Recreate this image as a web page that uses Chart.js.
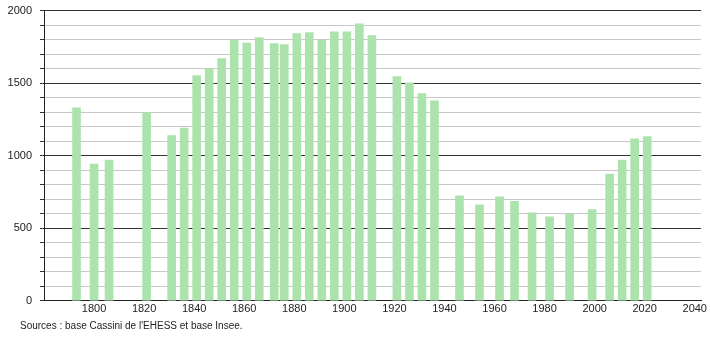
<!DOCTYPE html>
<html>
<head>
<meta charset="utf-8">
<script src="https://cdn.jsdelivr.net/npm/chart.js@4/dist/chart.umd.min.js"></script>
<style>
  body { margin: 0; background: #fff; }
  #wrap { position: relative; width: 710px; height: 340px; overflow: hidden; }
  #popChart { position: absolute; left: 0; top: -4px; }
  #source { position: absolute; left: 20px; top: 320px; font: 10px "Liberation Sans", Arial, sans-serif; color: #222; }
</style>
</head>
<body>
<div id="wrap">
  <canvas id="popChart" width="710" height="340"></canvas>
  <div id="source">Sources : base Cassini de l'EHESS et base Insee.</div>
</div>
<script>
// années de recensement
const years = [1793, 1800, 1806, 1821, 1831, 1836, 1841, 1846, 1851, 1856,
  1861, 1866, 1872, 1876, 1881, 1886, 1891, 1896, 1901, 1906,
  1911, 1921, 1926, 1931, 1936, 1946, 1954, 1962, 1968, 1975,
  1982, 1990, 1999, 2006, 2011, 2016, 2021];

// population
const population = [1330, 943, 970, 1298, 1138, 1191, 1552, 1598, 1669, 1795,
  1777, 1814, 1772, 1766, 1841, 1848, 1795, 1853, 1853, 1908,
  1828, 1545, 1503, 1428, 1379, 724, 662, 717, 685, 607,
  579, 598, 628, 874, 970, 1117, 1131];

const yMajorTicks = [0, 500, 1000, 1500, 2000];
const xTickLabels = [1800, 1820, 1840, 1860, 1880, 1900, 1920, 1940, 1960, 1980, 2000, 2020, 2040];

const points = years.map((y, i) => ({ x: y, y: population[i] }));

const ctx = document.getElementById('popChart').getContext('2d');
new Chart(ctx, {
  type: 'bar',
  data: {
    datasets: [{
      data: points,
      backgroundColor: 'rgb(172, 227, 172)',
      borderWidth: 0,
      barThickness: 8
    }]
  },
  options: {
    responsive: false,
    animation: false,
    layout: { padding: { top: 0, right: 9, bottom: 18, left: 0 } },
    plugins: { legend: { display: false }, tooltip: { enabled: false } },
    scales: {
      x: {
        type: 'linear',
        offset: false,
        min: 1780,
        max: 2042.5,
        afterBuildTicks: s => { s.ticks = xTickLabels.map(v => ({ value: v })); },
        grid: { display: false, drawTicks: false, offset: false },
        border: { display: true, color: '#222', width: 1 },
        ticks: {
          autoSkip: false,
          maxRotation: 0,
          padding: 2,
          color: '#222',
          font: { family: '"Liberation Sans", Arial, sans-serif', size: 11 },
          callback: v => String(v)
        }
      },
      y: {
        min: 0,
        max: 2000,
        afterFit: s => { s.width = 44; },
        border: { display: true, color: '#222', width: 1 },
        grid: {
          color: c => yMajorTicks.includes(c.tick.value) ? '#333' : '#c8c8c8',
          tickColor: '#333',
          tickLength: 4,
          lineWidth: 1
        },
        ticks: {
          stepSize: 100,
          autoSkip: false,
          padding: 8,
          color: '#222',
          font: { family: '"Liberation Sans", Arial, sans-serif', size: 11 },
          callback: v => yMajorTicks.includes(v) ? String(v) : ''
        }
      }
    }
  }
});
</script>
</body>
</html>
